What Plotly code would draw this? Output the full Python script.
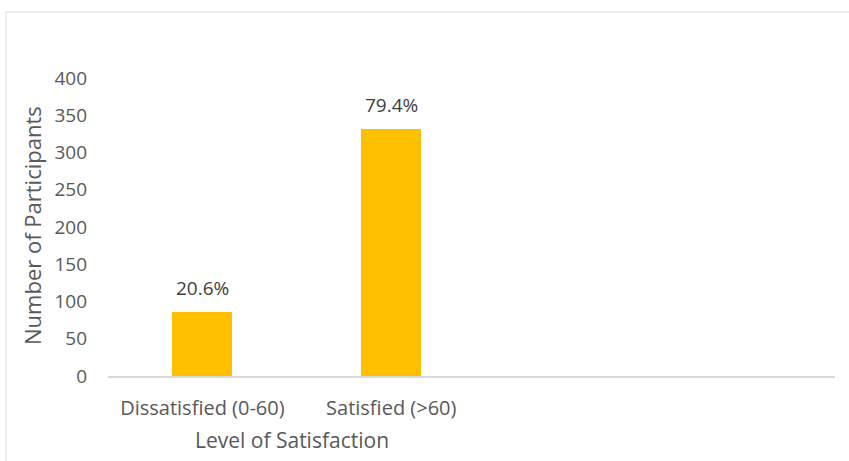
import plotly.graph_objects as go

categories = ["Dissatisfied (0-60)", "Satisfied (>60)"]
participants = [86, 332]
labels = ["20.6%", "79.4%"]
y_ticks = [0, 50, 100, 150, 200, 250, 300, 350, 400]

W, H = 849, 461
ml, mr, mt, mb = 108, 14, 78, 85
pw, ph = W - ml - mr, H - mt - mb
FONT = "Open Sans"
COL = "#595959"

fig = go.Figure()
fig.add_trace(go.Bar(
    x=categories, y=participants,
    marker=dict(color="#FFC000", line=dict(width=0)),
    width=0.317,
))

for c, v, t in zip(categories, participants, labels):
    fig.add_annotation(x=c, y=v, text=t, showarrow=False, yanchor="middle",
                       yshift=24, font=dict(family=FONT, size=19, color="#404040"))

fig.update_layout(
    width=W, height=H,
    margin=dict(l=ml, r=mr, t=mt, b=mb),
    paper_bgcolor="white", plot_bgcolor="white",
    showlegend=False,
    font=dict(family=FONT, color=COL, size=19),
    xaxis=dict(
        type="category", range=[-0.5, 3.35],
        showline=True, linecolor="#d9d9d9", linewidth=1.5,
        showgrid=False, ticks="", ticklabelstandoff=13,
        tickfont=dict(family=FONT, size=20, color=COL),
    ),
    yaxis=dict(
        range=[0, 400], tickvals=y_ticks, showgrid=False, zeroline=False,
        showline=False, ticks="", ticklabelstandoff=20,
        tickfont=dict(family=FONT, size=19, color=COL),
    ),
    bargap=0.0,
)

fig.add_annotation(text="Level of Satisfaction", xref="paper", yref="paper",
                   x=(292 - ml) / pw, y=-(440 - mt - ph) / ph, showarrow=False,
                   xanchor="center", yanchor="middle",
                   font=dict(family=FONT, size=21, color=COL))
fig.add_annotation(text="Number of Participants", xref="paper", yref="paper",
                   x=(32 - ml) / pw, y=(H - mb - 226) / ph, showarrow=False,
                   xanchor="center", yanchor="middle", textangle=-90,
                   font=dict(family=FONT, size=22, color=COL))

# chart border
fig.add_shape(type="rect", xref="paper", yref="paper",
              x0=(6 - ml) / pw, x1=(W + 5 - ml) / pw,
              y0=-(H + 5 - mt - ph) / ph, y1=(H - 12 - mb) / ph,
              line=dict(color="#d9d9d9", width=1), layer="below")

fig.write_html("out.html")
